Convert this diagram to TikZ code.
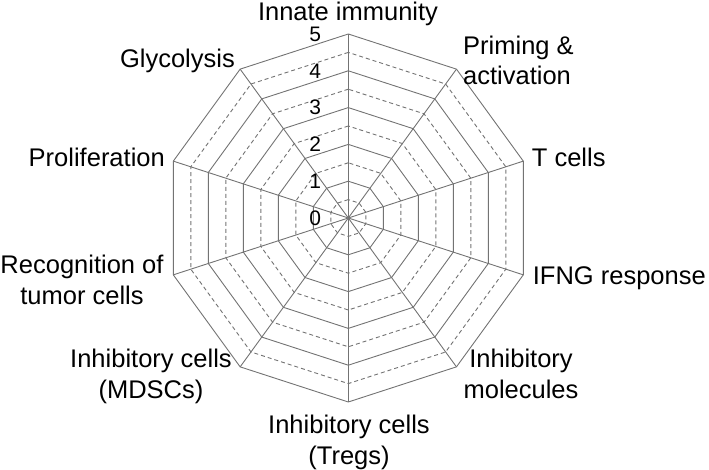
\documentclass[tikz,border=0pt]{standalone}
\usepackage{fontspec}
\setmainfont{Liberation Sans}
\usetikzlibrary{positioning}

\definecolor{webgray}{gray}{0.45}
\tikzset{
  web/.style={draw=webgray,line width=0.9pt},
  halfweb/.style={web,dash pattern=on 4pt off 3pt},
  axislabel/.style={font=\fontsize{25.5}{30.5}\selectfont,inner sep=0pt,align=center},
  ticklabel/.style={font=\fontsize{21}{24}\selectfont,inner sep=0pt}
}

\begin{document}
\begin{tikzpicture}[x=1pt,y=1pt]
    \useasboundingbox (0,0) rectangle (709,470);
    \coordinate (c) at (348.3,252);

    % rings, dashed at the half steps
    \foreach \l in {1,...,10} {
        \ifodd\l \def\ring{halfweb}\else\def\ring{web}\fi
        \draw[\ring,shift={(c)}] (90:{\l*18.4})
            \foreach \a in {126,162,...,414} { -- (\a:{\l*18.4}) } -- cycle;
    }

    % spokes
    \foreach \i in {0,...,9} {
        \path (c) ++({90-36*\i}:184) coordinate (v\i);
        \draw[web] (c) -- (v\i);
    }

    % scale
    \foreach \k in {0,...,5}
        \path (c) ++(-27,{\k*36.8}) node[ticklabel,anchor=east] (n\k) {\k};

    \node[axislabel,anchor=base] (innate) at (348,449.5) {Innate immunity};
    \node[axislabel,anchor=north west,align=left] (priming) at (463,434.5) {Priming \&\\activation};
    \node[axislabel,anchor=base west] (tcells) at (531.7,303.3) {T cells};
    \node[axislabel,anchor=base west] (ifng) at (532.7,185) {IFNG response};
    \node[axislabel,anchor=north] (inhmol) at (521,121) {Inhibitory\\molecules};
    \node[axislabel,anchor=north] (tregs) at (349,55) {Inhibitory cells\\(Tregs)};
    \node[axislabel,anchor=north] (mdsc) at (151,121) {Inhibitory cells\\(MDSCs)};
    \node[axislabel,anchor=north] (recog) at (82,215) {Recognition of\\tumor cells};
    \node[axislabel,anchor=base east] (prolif) at (165,303) {Proliferation};
    \node[axislabel,anchor=base east] (glyco) at (235,402) {Glycolysis};
\end{tikzpicture}
\end{document}
